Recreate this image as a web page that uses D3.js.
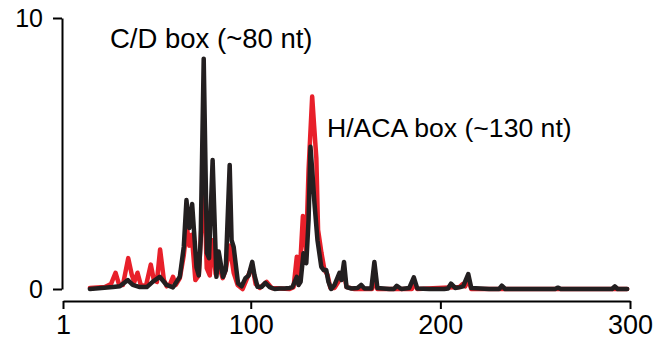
<!DOCTYPE html>
<html><head><meta charset="utf-8">
<script src="https://cdn.jsdelivr.net/npm/d3@7"></script>
<style>body{margin:0;background:#fff}svg{display:block}text{font-family:"Liberation Sans",Arial,sans-serif;fill:#000}</style>
</head><body>
<svg id="c" width="665" height="343"></svg>
<script>
const xTicks = [1, 100, 200, 300];
const yTicks = [0, 10];
const annotations = ["C/D box (~80 nt)", "H/ACA box (~130 nt)"];
const redPos = [15.2,23.1,26.3,28.7,30.5,32.6,35.4,37.3,38.6,40.3,42,44.7,47.3,48.9,50.5,52.2,54.2,55.7,57.3,59,60.5,62.6,64.7,66.3,67.6,68.9,70.8,72.6,73.9,75.2,76.8,78.4,79.9,81.5,83.1,85.2,86.8,88.9,91,93.1,95.7,97.3,100.8,102.6,104.7,108.4,111,120.5,122.6,124.3,125.7,127.5,129.2,130.5,132.4,133.4,134.6,135.5,137.3,138.9,140.5,142,144.2,146.8,148.9,150.5,154.7,164,165.2,166.8,185,186,187.8,210,211.7,213.1,214.7,216.3,283.6,298.5];
const redVal = [0.04,0.07,0.18,0.6,0.18,0.15,1.14,0.52,0.26,0.6,0.15,0.1,0.9,0.33,0.26,1.46,0.33,0.1,0.15,0.45,0.15,0.4,1.25,2.3,1.6,2.0,0.33,0.5,2.2,4.3,0.77,0.5,1.8,0.55,0.88,0.4,0.7,1.6,0.6,0.15,0,0.26,0.85,0.18,0.04,0.26,0.04,0,0.07,1.19,0.4,2.69,1.44,4.4,7.1,6.05,4.83,2.18,1.33,0.7,0.52,0.04,0.04,0.33,0.7,0.07,0,0,0.33,0,0,0.26,0,0.07,0.18,0.1,0.33,0,0,0];
const blackPos = [15.2,27.3,31,35.2,37.8,41.5,45.2,48.4,52,55.6,59,62.6,64.7,66.1,67.6,69.1,71.4,72.6,73.6,75.2,76.9,78,79.9,81.9,83.1,85.4,86.8,88.9,89.9,91,93.3,95.2,97.2,98.9,100.8,102,103.6,105.7,107.7,110,112.6,115.2,117.8,120.5,122,124.3,125.2,126.3,127.8,129.3,130.5,131.5,132.6,133.6,135.2,137.2,138.5,139.8,141,142.4,144.2,146.8,147.8,149.2,150.5,153.1,156.3,158.2,160,163.6,165.2,166.8,173.1,175.5,177,179.4,183.6,186,187.8,194.2,202,204,205.6,207.8,210.5,212,214.7,216.3,225.7,231,232.4,234.2,246.8,260.5,262,263.5,273,290.5,292,293.5,298.5];
const blackVal = [0,0.07,0.1,0.33,0.15,0.07,0.07,0.27,0.45,0.15,0.06,0.45,1.56,3.28,2.25,3.14,0.8,0.5,1.8,8.5,1.33,1.14,4.76,0.45,1.38,0.45,0.7,4.58,1.8,1.55,0.21,0.1,0.4,0.5,1.0,0.5,0.08,0.07,0.23,0.07,0,0.02,0.02,0.04,0.07,0.45,0.15,0.27,1.32,0.95,2.55,5.25,4.2,3.17,1.8,0.82,0.7,0.7,0.26,0,0.15,0.6,0.33,1.0,0.07,0.02,0.04,0.15,0.02,0.02,1.0,0.04,0,0,0.12,0,0.04,0.43,0.02,0,0,0.02,0.2,0.04,0.07,0.1,0.55,0.04,0,0,0.12,0,0,0,0.05,0,0,0,0.1,0,0];

const svg = d3.select("#c");
const x = d3.scaleLinear().domain([1, 300]).range([63, 630]);
const y = d3.scaleLinear().domain([0, 10]).range([289, 18]);

const xAxis = d3.axisBottom(x).tickValues(xTicks).tickSize(8).tickSizeOuter(0).tickPadding(6);
const gx = svg.append("g").attr("transform","translate(0,301)").call(xAxis);
gx.select(".domain").attr("stroke","#000").attr("stroke-width",2);
gx.selectAll(".tick line").attr("stroke","#000").attr("stroke-width",2);
gx.selectAll(".tick text").attr("font-size",27).attr("font-family","Liberation Sans, Arial").attr("fill","#000");

const yAxis = d3.axisLeft(y).tickValues(yTicks).tickSize(9).tickSizeOuter(0).tickPadding(10);
const gy = svg.append("g").attr("transform","translate(62,0)").call(yAxis);
gy.select(".domain").attr("stroke","#000").attr("stroke-width",2);
gy.selectAll(".tick line").attr("stroke","#000").attr("stroke-width",2);
gy.selectAll(".tick text").attr("font-size",25).attr("font-family","Liberation Sans, Arial").attr("fill","#000");

const line = d3.line().x(d=>x(d[0])).y(d=>y(d[1]));
const redData = redPos.map((p,i)=>[p, redVal[i]]);
const blackData = blackPos.map((p,i)=>[p, blackVal[i]]);
svg.append("path").datum(redData).attr("d",line).attr("fill","none")
  .attr("stroke","#e8202a").attr("stroke-width",4.5).attr("stroke-linejoin","round").attr("stroke-linecap","round");
svg.append("path").datum(blackData).attr("d",line).attr("fill","none")
  .attr("stroke","#231f20").attr("stroke-width",4.5).attr("stroke-linejoin","round").attr("stroke-linecap","round");

svg.append("text").attr("x",110).attr("y",48).attr("font-size",27.5).text(annotations[0]);
svg.append("text").attr("x",327).attr("y",137).attr("font-size",26.6).text(annotations[1]);
</script>
</body></html>
